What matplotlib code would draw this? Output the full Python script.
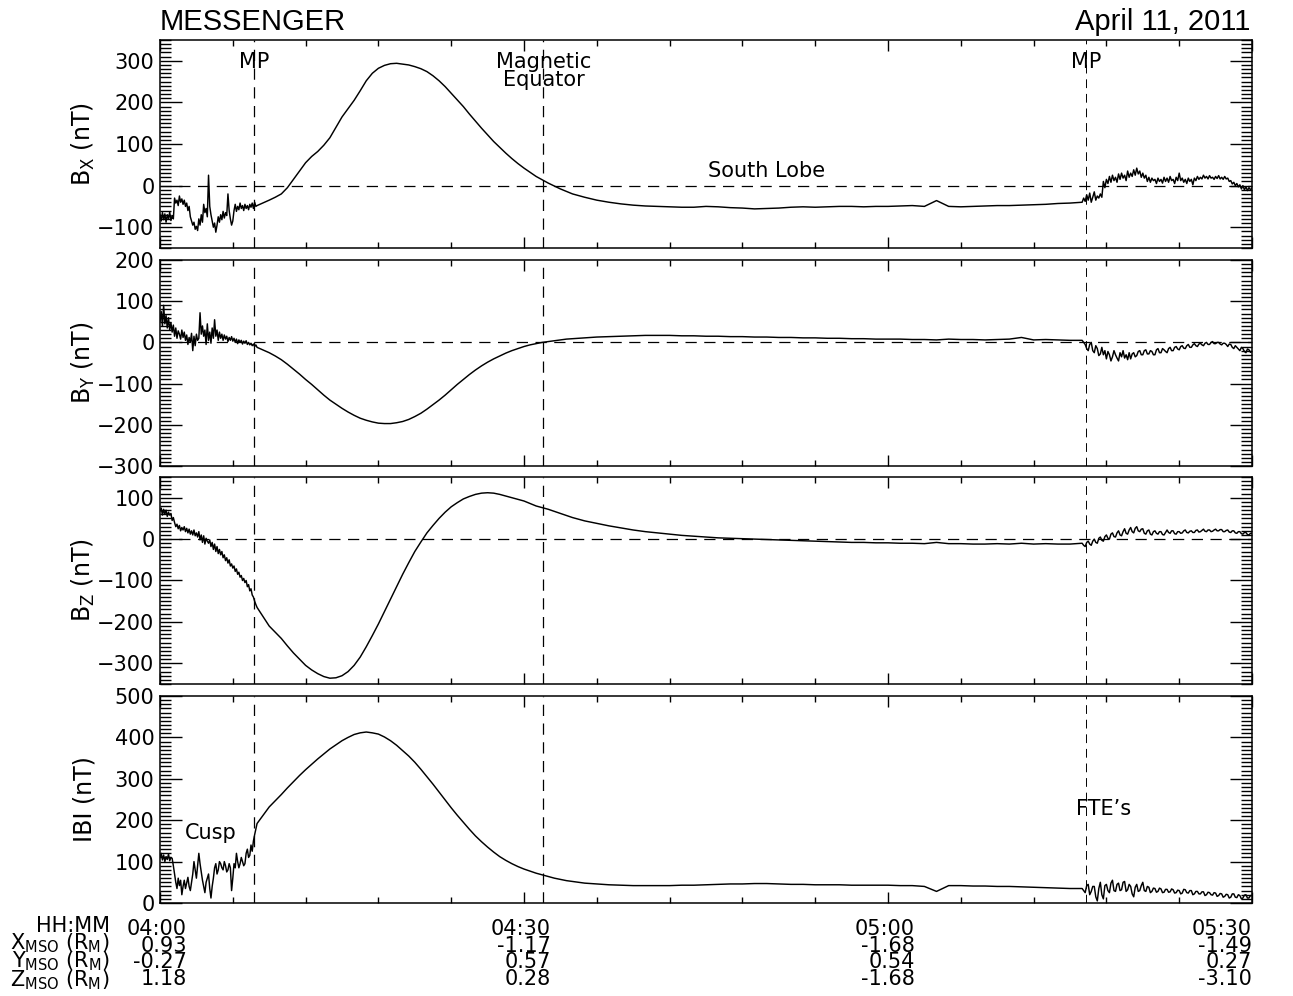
import numpy as np
import matplotlib
matplotlib.use("Agg")
import matplotlib.pyplot as plt
from matplotlib import transforms
from matplotlib.ticker import MultipleLocator

plt.rcParams['font.family'] = ['DejaVu Sans']
plt.rcParams['mathtext.fontset'] = 'custom'
plt.rcParams['mathtext.rm'] = 'DejaVu Sans'
plt.rcParams['mathtext.it'] = 'DejaVu Sans'

# ---------------- data (minutes after 04:00) ----------------
# A: 0..8 min step 0.1 ; B1: 9..35 step 0.5 ; B2: 36..75 step 1 ; C: 76..90 step 0.125
bx_a = [-70, -85, -65, -82, -68, -88, -70, -80, -64, -84,
        -72, -80, -30, -42, -35, -48, -25, -40, -32, -45,
        -35, -50, -42, -60, -50, -75, -85, -95, -88, -105,
        -98, -108, -80, -95, -70, -88, -45, -65, -55, -75,
        25, -50, -70, -85, -100, -90, -112, -95, -75, -88,
        -70, -82, -62, -78, -65, -72, -20, -60, -80, -95,
        -85, -60, -45, -62, -50, -58, -42, -55, -48, -60,
        -45, -55, -48, -58, -45, -52, -42, -55, -40, -50,
        -48]
bx_b1 = [-35, -28, -20, -5, 15, 35, 55, 70, 82, 97,
         115, 140, 165, 185, 205, 228, 252, 270, 282, 289,
         293, 294, 292, 290, 286, 281, 274, 264, 252, 238,
         222, 206, 190, 172, 155, 138, 122, 106, 92, 78,
         65, 53, 42, 32, 22, 14, 6, -1, -8, -14,
         -20, -24, -28]
bx_b2 = [-35, -40, -44, -47, -49, -50, -51, -52, -52, -50,
         -51, -53, -54, -56, -55, -54, -52, -51, -52, -51,
         -50, -50, -51, -50, -50, -49, -48, -50, -36, -50,
         -51, -50, -49, -48, -48, -47, -46, -45, -43, -42]
bx_c = [-40, -30, -38, -22, -35, -18, -40, -28,
        -15, -35, -25, -30, -20, -28, 10, -5,
        15, 5, 22, 8, 25, 12, 20, 8,
        28, 15, 30, 18, 25, 12, 35, 20,
        30, 22, 38, 25, 42, 28, 35, 20,
        30, 18, 25, 10, 20, 8, 18, 12,
        15, 5, 18, 10, 15, 6, 20, 10,
        18, 8, 22, 12, 15, 5, 20, 12,
        30, 12, 18, 8, 15, 5, 18, 10,
        15, 2, 18, 12, 22, 15, 20, 16,
        25, 18, 22, 16, 24, 18, 20, 15,
        22, 17, 24, 16, 20, 15, 22, 16,
        18, 10, 12, 4, 8, 0, 5, -3,
        2, -8, 0, -10, -3, -12, -5, -10,
        -6]

by_a = [50, 75, 40, 90, 45, 65, 35, 60, 30, 48,
        25, 42, 15, 35, 10, 28, 20, 8, 30, 12,
        25, 5, 18, -5, 12, 0, 22, -20, 15, -8,
        20, 5, 10, 72, 20, 40, 15, 30, -5, 45,
        5, 25, -2, 35, 10, 55, 15, 30, 5, 25,
        10, 20, 5, 18, 8, 15, 2, 12, 5, 14,
        3, 10, 0, 8, -3, 6, 0, 5, -4, 3,
        -2, 4, -5, 0, -6, -2, -8, -4, -10, -6,
        -12]
by_b1 = [-25, -33, -42, -53, -65, -77, -90, -102, -115, -128,
         -140, -150, -160, -169, -177, -184, -189, -193, -196, -197,
         -197, -195, -192, -187, -180, -172, -162, -151, -140, -128,
         -115, -102, -90, -78, -67, -57, -48, -40, -33, -26,
         -20, -15, -10, -6, -3, 0, 2, 4, 6, 8,
         9, 10, 11]
by_b2 = [13, 14, 15, 16, 17, 17, 17, 16, 16, 15,
         15, 14, 14, 13, 13, 12, 12, 11, 11, 10,
         10, 9, 9, 8, 8, 8, 7, 7, 6, 8,
         7, 7, 6, 7, 8, 12, 6, 7, 6, 5]
by_c = [5, 0, -5, -15, -20, -5, 0, -20,
        -25, -8, -15, -32, -28, -12, -30, -20,
        -40, -22, -30, -45, -35, -20, -30, -38,
        -45, -25, -35, -20, -38, -30, -42, -25,
        -40, -28, -25, -35, -32, -22, -20, -30,
        -30, -20, -18, -28, -28, -20, -22, -30,
        -30, -18, -15, -25, -25, -15, -18, -22,
        -25, -15, -12, -20, -20, -12, -10, -16,
        -18, -10, -8, -14, -15, -8, -5, -12,
        -12, -6, -3, -8, -10, -4, -2, -6,
        -8, -2, 0, -5, -5, 0, 2, -3,
        -3, 0, 0, -4, -6, -2, -2, -5,
        -10, -4, -5, -12, -15, -8, -12, -16,
        -20, -12, -15, -22, -25, -16, -18, -24,
        -22]

bz_a = [68, 75, 58, 72, 60, 70, 55, 65, 58, 62,
        45, 52, 40, 30, 36, 25, 33, 20, 28, 22,
        30, 18, 26, 15, 24, 12, 20, 10, 22, 8,
        15, 5, 18, -2, 10, -8, 8, -12, 2, -5,
        -10, -2, -18, -8, -25, -12, -30, -18, -35, -25,
        -38, -30, -45, -38, -52, -45, -58, -50, -65, -60,
        -70, -65, -78, -72, -85, -80, -92, -88, -100, -95,
        -105, -100, -115, -110, -125, -120, -135, -140, -150, -158,
        -165]
bz_b1 = [-210, -225, -240, -258, -275, -290, -305, -316, -325, -332,
         -336, -335, -330, -320, -305, -285, -260, -233, -205, -175,
         -145, -115, -85, -57, -30, -7, 15, 33, 50, 65,
         78, 88, 97, 103, 108, 111, 112, 111, 108, 104,
         100, 96, 92, 86, 80, 76, 72, 67, 62, 57,
         52, 48, 44]
bz_b2 = [38, 32, 27, 22, 18, 15, 12, 9, 7, 5,
         3, 2, 1, 0, -1, -2, -3, -4, -5, -6,
         -7, -8, -8, -9, -9, -10, -10, -11, -8, -11,
         -11, -12, -12, -11, -12, -10, -12, -11, -12, -12]
bz_c = [-10, -15, -18, -8, -5, -12, -15, -5,
        0, -8, -10, 2, 5, -3, -5, 6,
        10, 2, 0, 12, 15, 6, 5, 15,
        20, 10, 8, 18, 25, 14, 12, 22,
        28, 18, 15, 26, 30, 20, 18, 24,
        25, 14, 12, 20, 22, 12, 10, 18,
        20, 14, 12, 18, 18, 11, 10, 16,
        22, 16, 14, 20, 20, 13, 12, 18,
        18, 14, 15, 20, 22, 16, 15, 19,
        20, 16, 16, 21, 22, 17, 18, 21,
        24, 19, 18, 22, 22, 18, 19, 22,
        24, 20, 20, 23, 23, 18, 18, 21,
        22, 17, 16, 20, 20, 15, 14, 18,
        18, 13, 12, 16, 16, 11, 10, 14,
        14]

bt_a = [110, 120, 104, 116, 100, 112, 105, 118, 102, 110,
        108, 90, 70, 50, 35, 60, 42, 55, 20, 40,
        55, 35, 48, 62, 40, 30, 50, 70, 100, 80,
        60, 90, 120, 95, 75, 55, 40, 25, 50, 60,
        70, 35, 12, 40, 60, 85, 95, 70, 80, 100,
        95, 85, 80, 100, 90, 75, 80, 95, 85, 30,
        60, 95, 85, 120, 100, 85, 95, 110, 100, 90,
        95, 120, 130, 110, 115, 140, 125, 150, 165, 178,
        192]
bt_b1 = [232, 247, 262, 278, 293, 308, 322, 335, 348, 360,
         372, 382, 392, 400, 407, 411, 413, 411, 408, 401,
         392, 381, 368, 355, 340, 323, 305, 287, 268, 249,
         230, 212, 195, 178, 162, 148, 135, 123, 112, 103,
         95, 88, 82, 77, 72, 68, 64, 60, 57, 54,
         52, 50, 48]
bt_b2 = [46, 44, 43, 42, 42, 42, 42, 43, 43, 44,
         45, 46, 46, 47, 47, 46, 45, 45, 44, 44,
         44, 43, 43, 43, 43, 42, 42, 40, 28, 42,
         42, 41, 41, 40, 40, 39, 38, 37, 36, 35]
bt_c = [35, 30, 25, 42, 45, 20, 28, 40,
        40, 15, 5, 35, 50, 20, 10, 42,
        45, 30, 25, 48, 55, 30, 28, 45,
        48, 30, 32, 50, 52, 28, 32, 45,
        40, 22, 15, 38, 45, 28, 30, 42,
        50, 30, 28, 40, 38, 25, 28, 36,
        35, 26, 28, 36, 34, 25, 26, 33,
        33, 26, 27, 34, 32, 24, 25, 31,
        30, 22, 24, 33, 32, 25, 24, 30,
        30, 20, 22, 28, 28, 22, 22, 27,
        27, 18, 20, 26, 25, 20, 19, 25,
        24, 16, 18, 23, 22, 14, 16, 21,
        20, 12, 14, 22, 22, 14, 13, 20,
        18, 10, 12, 19, 20, 12, 12, 18,
        18]

series = [
    ((bx_a, bx_b1, bx_b2, bx_c), r'B$_{\rm X}$ (nT)', (-150, 350), True),
    ((by_a, by_b1, by_b2, by_c), r'B$_{\rm Y}$ (nT)', (-300, 200), True),
    ((bz_a, bz_b1, bz_b2, bz_c), r'B$_{\rm Z}$ (nT)', (-350, 150), True),
    ((bt_a, bt_b1, bt_b2, bt_c), 'IBI (nT)', (0, 500), False),
]
seg_ranges = [(0, 8), (9, 35), (36, 75), (76, 90)]

event_times = [7.75, 31.6, 76.3]      # MP, Magnetic Equator, MP
tick_minutes = [0, 30, 60, 90]
hhmm = ['04:00', '04:30', '05:00', '05:30']
x_mso = ['0.93', '-1.17', '-1.68', '-1.49']
y_mso = ['-0.27', '0.57', '0.54', '0.27']
z_mso = ['1.18', '0.28', '-1.68', '-3.10']

# ---------------- figure ----------------
W, H = 1293, 996
fig = plt.figure(figsize=(W / 100, H / 100), dpi=100)

panels_px = [(40, 248), (260, 466), (477, 684), (696, 903)]
L, R = 160, 1252
axes = []
for (top, bot) in panels_px:
    ax = fig.add_axes([L / W, 1 - bot / H, (R - L) / W, (bot - top) / H])
    axes.append(ax)

FS = 15
for ax, (segs, lab, ylim, zero) in zip(axes, series):
    ts, vs = [], []
    for (t0, t1), vals in zip(seg_ranges, segs):
        ts.append(np.linspace(t0, t1, len(vals)))
        vs.append(np.asarray(vals, dtype=float))
    t = np.concatenate(ts)
    v = np.concatenate(vs)
    ax.plot(t, v, color='black', lw=1.05, zorder=3)
    ax.set_xlim(0, 90)
    ax.set_ylim(*ylim)
    if zero:
        ax.axhline(0, color='black', lw=0.9, dashes=(9, 6))
    for i, et in enumerate(event_times):
        ax.axvline(et, color='black', lw=0.9 if i < 2 else 0.7, dashes=(9, 6))
    ax.set_ylabel(lab, fontsize=17)
    ax.yaxis.set_major_locator(MultipleLocator(100))
    ax.yaxis.set_minor_locator(MultipleLocator(10))
    ax.xaxis.set_major_locator(MultipleLocator(30))
    ax.xaxis.set_minor_locator(MultipleLocator(6))
    ax.tick_params(axis='y', which='major', direction='in', length=16, width=1.0,
                   left=True, right=True, labelsize=FS, pad=4)
    ax.tick_params(axis='y', which='minor', direction='in', length=8, width=1.0,
                   left=True, right=True)
    ax.tick_params(axis='x', which='major', direction='in', length=8, width=1.0,
                   top=True, bottom=True, labelbottom=False)
    ax.tick_params(axis='x', which='minor', direction='in', length=4, width=1.0,
                   top=True, bottom=True)
    for s in ax.spines.values():
        s.set_linewidth(1.1)
    ax.yaxis.set_label_coords(-0.058, 0.5)

# annotations
a1 = axes[0]
a1.text(7.75, 298, 'MP', ha='center', va='center', fontsize=FS)
a1.text(31.6, 298, 'Magnetic', ha='center', va='center', fontsize=FS)
a1.text(31.6, 255, 'Equator', ha='center', va='center', fontsize=FS)
a1.text(76.3, 298, 'MP', ha='center', va='center', fontsize=FS)
a1.text(50, 36, 'South Lobe', ha='center', va='center', fontsize=FS)
a4 = axes[3]
a4.text(4.2, 168, 'Cusp', ha='center', va='center', fontsize=FS)
a4.text(77.8, 228, "FTE’s", ha='center', va='center', fontsize=FS)

# title
fig.text(L / W, 1 - 22 / H, 'MESSENGER', ha='left', va='center', fontsize=21,
         family='Liberation Sans')
fig.text(1250 / W, 1 - 22 / H, 'April 11, 2011', ha='right', va='center', fontsize=21,
         family='Liberation Sans')

# bottom time/position labels (one multi-line block per column, 16 px row pitch)
block_y = 1 - 954 / H
left_labels = ['HH:MM', r'X$_{\rm MSO}$ (R$_{\rm M}$)', r'Y$_{\rm MSO}$ (R$_{\rm M}$)',
               r'Z$_{\rm MSO}$ (R$_{\rm M}$)']
fig.text(110 / W, block_y, '\n'.join(left_labels), ha='right', va='center',
         multialignment='right', fontsize=FS, linespacing=0.72)

blend = transforms.blended_transform_factory(a4.transData, fig.transFigure)
for i, m in enumerate(tick_minutes):
    dx = 27 if i < 3 else 0
    tr = transforms.offset_copy(blend, fig=fig, x=dx, y=0, units='dots')
    block = '\n'.join([hhmm[i], x_mso[i], y_mso[i], z_mso[i]])
    fig.text(m, block_y, block, ha='right', va='center', multialignment='right',
             fontsize=FS, linespacing=0.79, transform=tr)

fig.savefig('out.png', dpi=100)
